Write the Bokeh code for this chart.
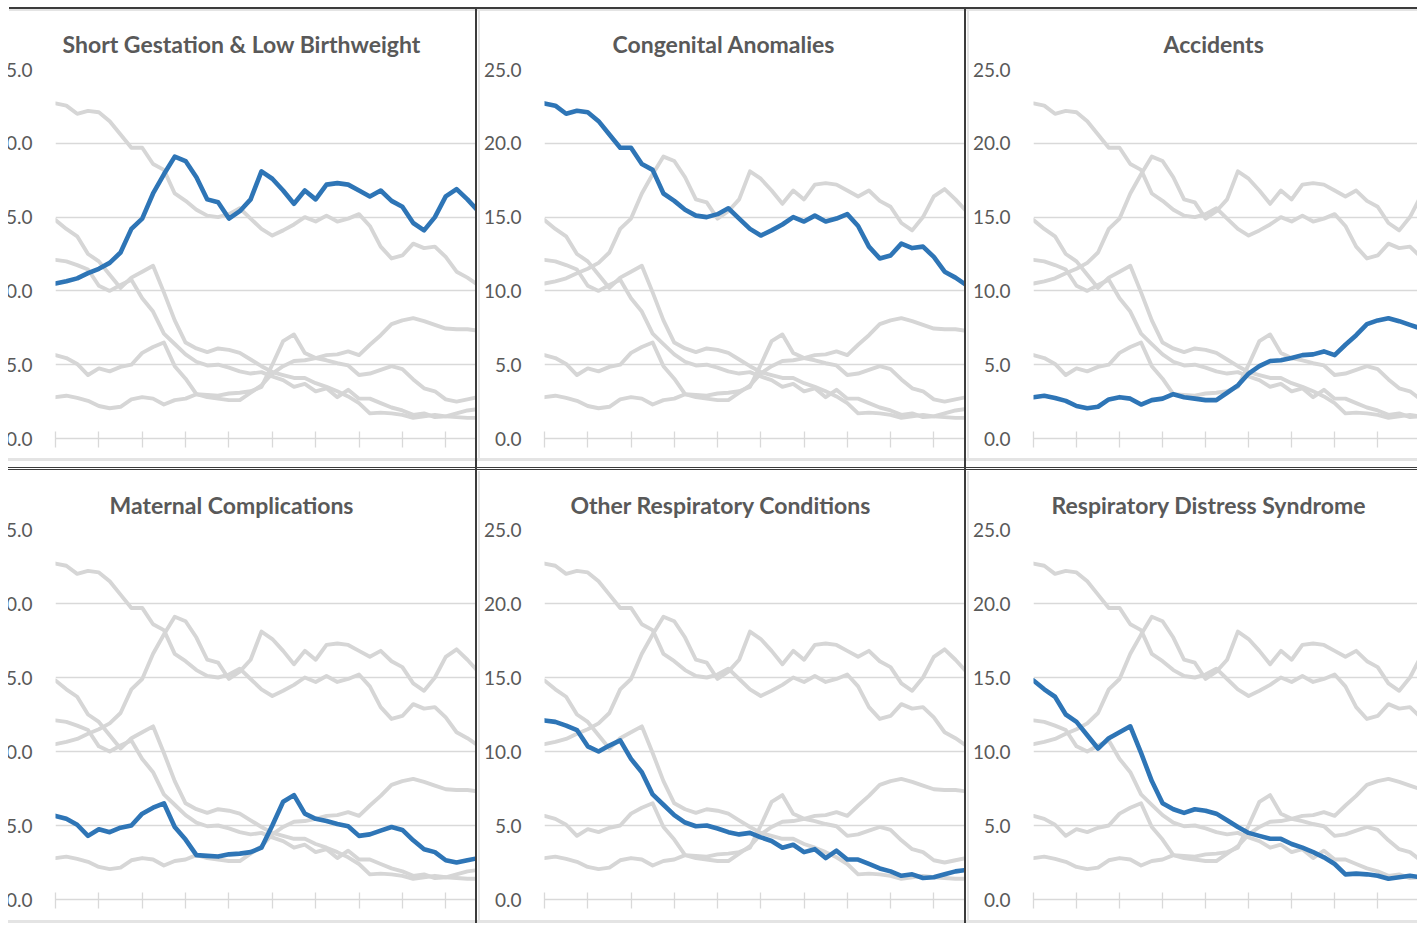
from bokeh.plotting import figure
from bokeh.layouts import row, column
from bokeh.models import Range1d, FixedTicker, NumeralTickFormatter, Spacer
from bokeh.embed import file_html
from bokeh.resources import INLINE

# ---------------- data ----------------
period_index = list(range(40))          # 4 points per x-axis tick interval
tick_positions = list(range(0, 41, 4))
y_ticks = [0, 5, 10, 15, 20, 25]

titles = [
    "Short Gestation & Low Birthweight",
    "Congenital Anomalies",
    "Accidents",
    "Maternal Complications",
    "Other Respiratory Conditions",
    "Respiratory Distress Syndrome",
]

short_gestation = [10.5, 10.65, 10.85, 11.2, 11.5, 11.9, 12.6, 14.2, 14.9, 16.6,
                   17.9, 19.1, 18.8, 17.7, 16.2, 16.0, 14.9, 15.4, 16.2, 18.1,
                   17.6, 16.8, 15.9, 16.8, 16.2, 17.2, 17.3, 17.2, 16.8, 16.4,
                   16.8, 16.1, 15.7, 14.6, 14.1, 15.0, 16.4, 16.9, 16.2, 15.4]
congenital = [22.7, 22.55, 22.0, 22.2, 22.1, 21.5, 20.6, 19.7, 19.7, 18.6,
              18.2, 16.6, 16.1, 15.5, 15.1, 15.0, 15.2, 15.6, 14.9, 14.2,
              13.75, 14.1, 14.5, 15.0, 14.7, 15.1, 14.7, 14.9, 15.2, 14.4,
              13.0, 12.2, 12.4, 13.2, 12.9, 13.0, 12.3, 11.3, 10.9, 10.4]
accidents = [2.8, 2.9, 2.75, 2.55, 2.2, 2.05, 2.15, 2.65, 2.8, 2.7,
             2.3, 2.6, 2.7, 3.0, 2.8, 2.7, 2.6, 2.6, 3.1, 3.6,
             4.4, 4.9, 5.25, 5.3, 5.45, 5.65, 5.7, 5.9, 5.65, 6.35,
             7.0, 7.75, 8.0, 8.15, 7.95, 7.7, 7.45, 7.4, 7.4, 7.3]
maternal = [5.65, 5.45, 5.05, 4.3, 4.75, 4.55, 4.85, 5.0, 5.8, 6.2,
            6.5, 4.9, 4.05, 3.0, 2.95, 2.9, 3.05, 3.1, 3.2, 3.5,
            5.0, 6.6, 7.05, 5.8, 5.45, 5.3, 5.1, 4.95, 4.3, 4.4,
            4.65, 4.9, 4.7, 4.0, 3.4, 3.2, 2.65, 2.5, 2.65, 2.8]
other_respiratory = [12.1, 12.0, 11.75, 11.45, 10.35, 10.0, 10.4, 10.75, 9.5, 8.6,
                     7.1, 6.4, 5.7, 5.2, 4.95, 5.0, 4.8, 4.55, 4.4, 4.5,
                     4.2, 3.95, 3.5, 3.7, 3.2, 3.4, 2.8, 3.3, 2.7, 2.7,
                     2.4, 2.1, 1.9, 1.6, 1.7, 1.45, 1.5, 1.7, 1.9, 2.0]
resp_distress = [14.8, 14.2, 13.7, 12.5, 12.0, 11.1, 10.2, 10.9, 11.3, 11.7,
                 9.9, 8.0, 6.5, 6.1, 5.85, 6.1, 6.0, 5.8, 5.35, 4.9,
                 4.5, 4.3, 4.1, 4.1, 3.75, 3.5, 3.2, 2.85, 2.4, 1.7,
                 1.75, 1.7, 1.6, 1.4, 1.5, 1.6, 1.5, 1.45, 1.4, 1.4]

all_series = [short_gestation, congenital, accidents, maternal, other_respiratory, resp_distress]

# ---------------- layout / style ----------------
GRAY = "#d9d9d9"
BLUE = "#2e75b6"
TEXT = "#595959"
DARK = "#3c3c3c"
PX_PER_INDEX = 10.84
BORDER_TOP = 58

col_widths = [487, 484, 448]
col_border_left = [67, 63, 61]
col_frame_left = [55, 543, 1030]          # page x of frame left edge
row_heights = [447, 449]
row_border_bottom = [20, 21]
title_left_x = [62, 611, 1160, 109, 569, 1048]
title_standoff = [23, 21]


def make_panel(k, r, c):
    w, h = col_widths[c], row_heights[r]
    fw = w - col_border_left[c]
    x_end = fw / PX_PER_INDEX
    p = figure(width=w, height=h, output_backend="svg", toolbar_location=None,
               x_range=Range1d(0, x_end), y_range=Range1d(0, 25),
               min_border_left=col_border_left[c], min_border_right=0,
               min_border_top=BORDER_TOP, min_border_bottom=row_border_bottom[r],
               background_fill_color="white", border_fill_color="white",
               outline_line_color=None, title=titles[k])
    p.title.align = "left"
    p.title.offset = title_left_x[k] - col_frame_left[c]
    p.title.text_font = "Lato"
    p.title.text_font_size = "23px"
    p.title.text_font_style = "bold"
    p.title.text_color = TEXT
    p.title.standoff = title_standoff[r]

    for j, ys in enumerate(all_series):
        if j != k:
            p.line(period_index, ys, line_color="#d6d6d6", line_width=3.9,
                   line_join="round", line_cap="round")
    p.line(period_index, all_series[k], line_color=BLUE, line_width=4.6,
           line_join="round", line_cap="round")

    xa = p.xaxis[0]
    xa.ticker = FixedTicker(ticks=[], minor_ticks=tick_positions)
    xa.axis_line_color = GRAY
    xa.axis_line_width = 1.3
    xa.major_tick_line_color = None
    xa.major_tick_in = 0
    xa.major_tick_out = 0
    xa.minor_tick_line_color = GRAY
    xa.minor_tick_line_width = 1.3
    xa.minor_tick_in = 7
    xa.minor_tick_out = 9
    p.xgrid.visible = False

    ya = p.yaxis[0]
    ya.ticker = FixedTicker(ticks=y_ticks)
    ya.formatter = NumeralTickFormatter(format="0.0")
    ya.axis_line_color = None
    ya.major_tick_line_color = None
    ya.major_tick_in = 0
    ya.major_tick_out = 0
    ya.minor_tick_line_color = None
    ya.minor_tick_in = 0
    ya.minor_tick_out = 0
    ya.major_label_standoff = 23
    ya.major_label_text_font = "Lato"
    ya.major_label_text_font_size = "19px"
    ya.major_label_text_color = TEXT
    p.ygrid.ticker = FixedTicker(ticks=y_ticks)
    p.ygrid.grid_line_color = GRAY
    p.ygrid.grid_line_width = 1.3
    return p


TW = sum(col_widths) + 10
s1 = col_widths[0]
s2 = col_widths[0] + 5 + col_widths[1]
vstripes = (f"linear-gradient(to right, transparent {s1}px, {DARK} {s1}px, {DARK} {s1+2}px, "
            f"transparent {s1+2}px, transparent {s2}px, {DARK} {s2}px, {DARK} {s2+2}px, transparent {s2+2}px)")


def vsep(h):
    return Spacer(width=5, height=h, styles={
        "background": f"linear-gradient(to right, {DARK} 0px, {DARK} 2px, #ffffff 2px, #ffffff 3px, #e4e4e4 3px, #e4e4e4 5px)"})


top_bar = Spacer(width=TW, height=4, styles={
    "background": "linear-gradient(to right, #ffffff 0px, #ffffff 21px, transparent 21px), " + vstripes +
                  f", linear-gradient(to bottom, {DARK} 0px, {DARK} 2px, #e4e4e4 2px, #e4e4e4 4px)"})
mid_bar = Spacer(width=TW, height=13, styles={
    "background": vstripes + f", linear-gradient(to bottom, #e4e4e4 0px, #e4e4e4 3px, #ffffff 3px, #ffffff 9px, "
                  f"{DARK} 9px, {DARK} 10px, #ffffff 10px, #ffffff 11px, {DARK} 11px, {DARK} 12px, #ffffff 12px)"})
bot_bar = Spacer(width=TW, height=3, styles={
    "background": vstripes + ", linear-gradient(to bottom, #e4e4e4 0px, #e4e4e4 3px)"})

panels = [make_panel(k, k // 3, k % 3) for k in range(6)]
row1 = row(panels[0], vsep(row_heights[0]), panels[1], vsep(row_heights[0]), panels[2], spacing=0)
row2 = row(panels[3], vsep(row_heights[1]), panels[4], vsep(row_heights[1]), panels[5], spacing=0)
layout = column(top_bar, row1, mid_bar, row2, bot_bar, spacing=0,
                styles={"margin": "7px 0px 0px -12px", "clip-path": "inset(0px 0px 0px 20px)"})

open("out.html", "w").write(file_html(layout, INLINE))
